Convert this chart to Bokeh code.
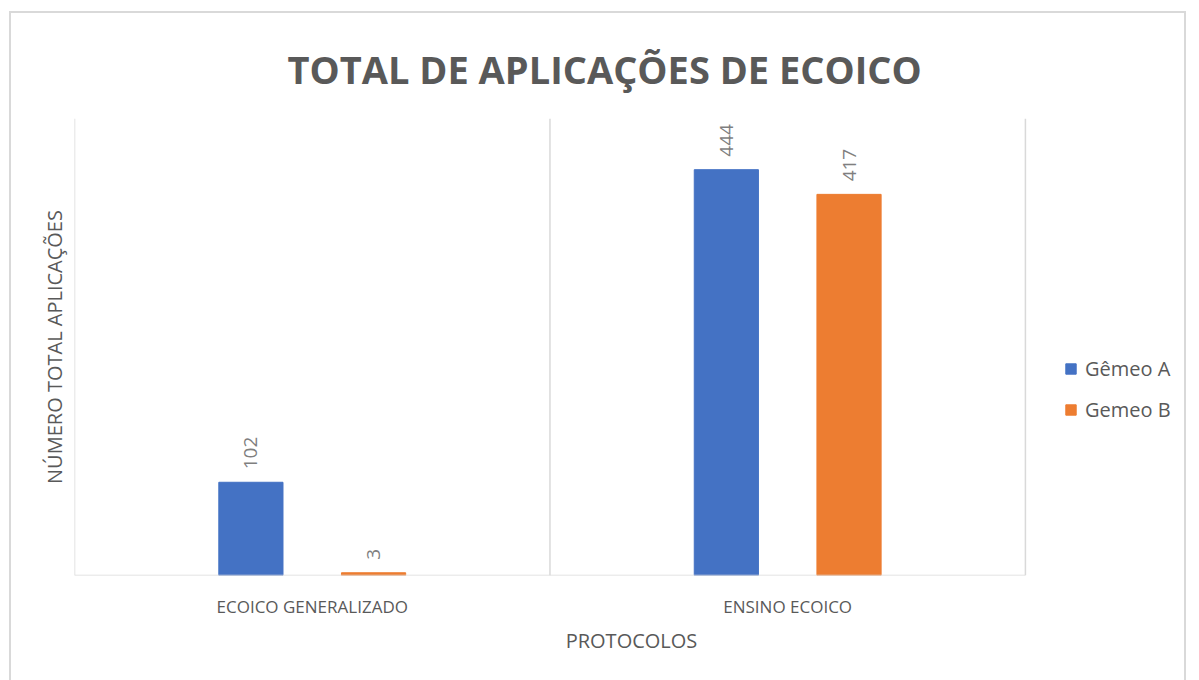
from math import pi
from bokeh.plotting import figure
from bokeh.models import (ColumnDataSource, Range1d, Span, Legend, LegendItem,
                          FixedTicker)
from bokeh.transform import dodge
from bokeh.core.properties import value
from bokeh.embed import file_html
from bokeh.resources import INLINE

# ---- data ----
categories = ["ECOICO GENERALIZADO", "ENSINO ECOICO"]
series_names = ["Gêmeo A", "Gemeo B"]
gemeo_a = [102, 444]
gemeo_b = [3, 417]
title_text = "TOTAL DE APLICAÇÕES DE ECOICO"
x_title = "PROTOCOLOS"
y_title = "NÚMERO TOTAL APLICAÇÕES"

BLUE = "#4472C4"
ORANGE = "#ED7D31"
GRID = "#d9d9d9"
TXT = "#595959"
FONT = "Open Sans"

n = len(categories)
centers = [i + 0.5 for i in range(n)]

src = ColumnDataSource(dict(
    pos=centers, a=gemeo_a, b=gemeo_b,
    a_lbl=[str(v) for v in gemeo_a], b_lbl=[str(v) for v in gemeo_b],
))

p = figure(
    width=1177, height=677,
    x_range=Range1d(0, 2.343), y_range=Range1d(0, 500),
    output_backend="svg", toolbar_location=None,
    min_border_left=63, min_border_right=0,
    min_border_top=105, min_border_bottom=115,
    background_fill_color="white", border_fill_color="white",
)
p.styles = {"border": "2px solid #d9d9d9", "margin-left": "9px", "margin-top": "11px"}
p.outline_line_color = None
p.xgrid.visible = False
p.ygrid.visible = False

# title
p.title.text = title_text
p.title.align = "left"
p.title.offset = 213
p.title.vertical_align = "top"
p.title.standoff = 44
p.title.text_font = FONT
p.title.text_font_style = "bold"
p.title.text_font_size = "38px"
p.title.text_color = TXT

off, bw = 0.129, 0.135
ra = p.vbar(x=dodge("pos", -off), top="a", width=bw,
            source=src, fill_color=BLUE, line_color=BLUE)
rb = p.vbar(x=dodge("pos", off), top="b", width=bw,
            source=src, fill_color=ORANGE, line_color=ORANGE)

for col, lbl, d in (("a", "a_lbl", -off), ("b", "b_lbl", off)):
    p.text(x=dodge("pos", d), y=col, text=lbl, source=src,
           angle=pi / 2, text_align="left", text_baseline="middle",
           y_offset=-13, text_font=value(FONT), text_font_size="19px",
           text_color="#7f7f7f")

# category separators and baseline
for loc in range(n + 1):
    p.add_layout(Span(location=loc, dimension="height", line_color=GRID,
                      line_width=1.5))
p.segment(x0=[0], x1=[n], y0=[0], y1=[0], line_color=GRID, line_width=1.5)

# axes
p.yaxis.ticker = []
p.yaxis.axis_line_color = None
p.yaxis.major_tick_line_color = None
p.yaxis.minor_tick_line_color = None
p.yaxis.major_tick_out = 0
p.yaxis.minor_tick_out = 0
p.yaxis.major_label_standoff = 0
p.yaxis.axis_label = y_title
p.yaxis.axis_label_standoff = 7
p.yaxis.axis_label_text_font = FONT
p.yaxis.axis_label_text_font_style = "normal"
p.yaxis.axis_label_text_font_size = "20px"
p.yaxis.axis_label_text_color = TXT

p.xaxis.ticker = FixedTicker(ticks=centers)
p.xaxis.major_label_overrides = {c: lab for c, lab in zip(centers, categories)}
p.xaxis.axis_line_color = None
p.xaxis.major_tick_line_color = None
p.xaxis.minor_tick_line_color = None
p.xaxis.major_tick_out = 0
p.xaxis.minor_tick_out = 0
p.xaxis.major_label_standoff = 19
p.xaxis.major_label_text_font = FONT
p.xaxis.major_label_text_font_size = "17px"
p.xaxis.major_label_text_color = TXT
p.xaxis.axis_label = x_title
p.xaxis.axis_label_standoff = 6
p.xaxis.axis_label_text_font = FONT
p.xaxis.axis_label_text_font_style = "normal"
p.xaxis.axis_label_text_font_size = "20px"
p.xaxis.axis_label_text_color = TXT

legend = Legend(items=[LegendItem(label=series_names[0], renderers=[ra]),
                       LegendItem(label=series_names[1], renderers=[rb])],
                location=(990, 152), orientation="vertical",
                border_line_color=None, background_fill_alpha=0,
                padding=0, margin=0, spacing=14,
                glyph_width=13, glyph_height=13, label_height=20,
                label_standoff=8, label_text_font=FONT,
                label_text_font_size="20px", label_text_color=TXT)
p.add_layout(legend, "center")

open("out.html", "w").write(file_html(p, INLINE))
